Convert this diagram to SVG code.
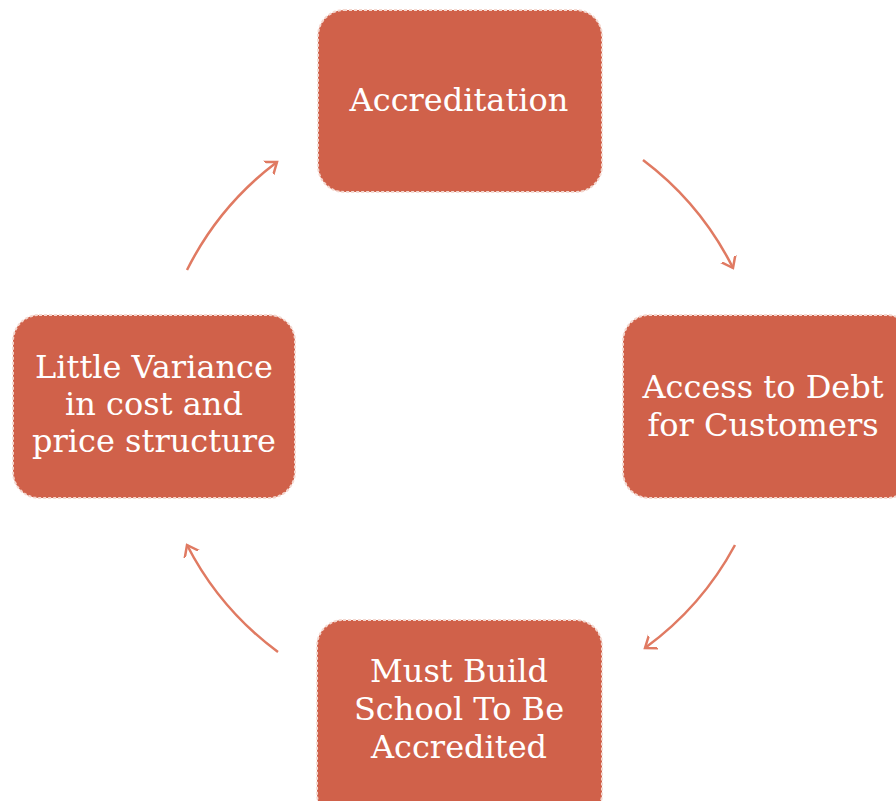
<svg xmlns="http://www.w3.org/2000/svg" width="896" height="801" viewBox="0 0 896 801">
<style>
.box{fill:#D0614A;stroke:#F4D8D0;stroke-width:2;stroke-dasharray:3 2}
.t{font-family:"DejaVu Serif","Liberation Serif",serif;font-size:32px;fill:#FFFFFF;text-anchor:middle}
.arc{fill:none;stroke:#E07A62;stroke-width:2.5;marker-end:url(#ah)}
</style>
<defs>
<marker id="ah" markerWidth="20" markerHeight="20" refX="10" refY="10" orient="auto" markerUnits="userSpaceOnUse">
<path d="M -2 1 L 10 10 L -2 19" fill="none" stroke="#E07A62" stroke-width="2.5"/>
</marker>
</defs>
<rect width="896" height="801" fill="#FFFFFF"/>
<g id="connectors">
<path class="arc" d="M 643 160 A 307 307 0 0 1 733 268"/>
<path class="arc" d="M 735 545 A 307 307 0 0 1 645 648"/>
<path class="arc" d="M 278 652 A 307 307 0 0 1 187 545"/>
<path class="arc" d="M 187 270 A 307 307 0 0 1 277 162"/>
</g>
<g id="accreditation">
<rect class="box" x="318" y="10" width="284" height="182" rx="26"/>
<text class="t" x="459" y="111">Accreditation</text>
</g>
<g id="access-to-debt">
<rect class="box" x="623" y="315" width="290" height="183" rx="26"/>
<text class="t" x="763" y="398">Access to Debt</text>
<text class="t" x="763" y="436">for Customers</text>
</g>
<g id="must-build-school">
<rect class="box" x="317" y="620" width="285" height="200" rx="26"/>
<text class="t" x="459" y="682">Must Build</text>
<text class="t" x="459" y="720">School To Be</text>
<text class="t" x="459" y="758">Accredited</text>
</g>
<g id="little-variance">
<rect class="box" x="13" y="315" width="282" height="183" rx="26"/>
<text class="t" x="154" y="378">Little Variance</text>
<text class="t" x="154" y="415">in cost and</text>
<text class="t" x="154" y="452">price structure</text>
</g>
</svg>
